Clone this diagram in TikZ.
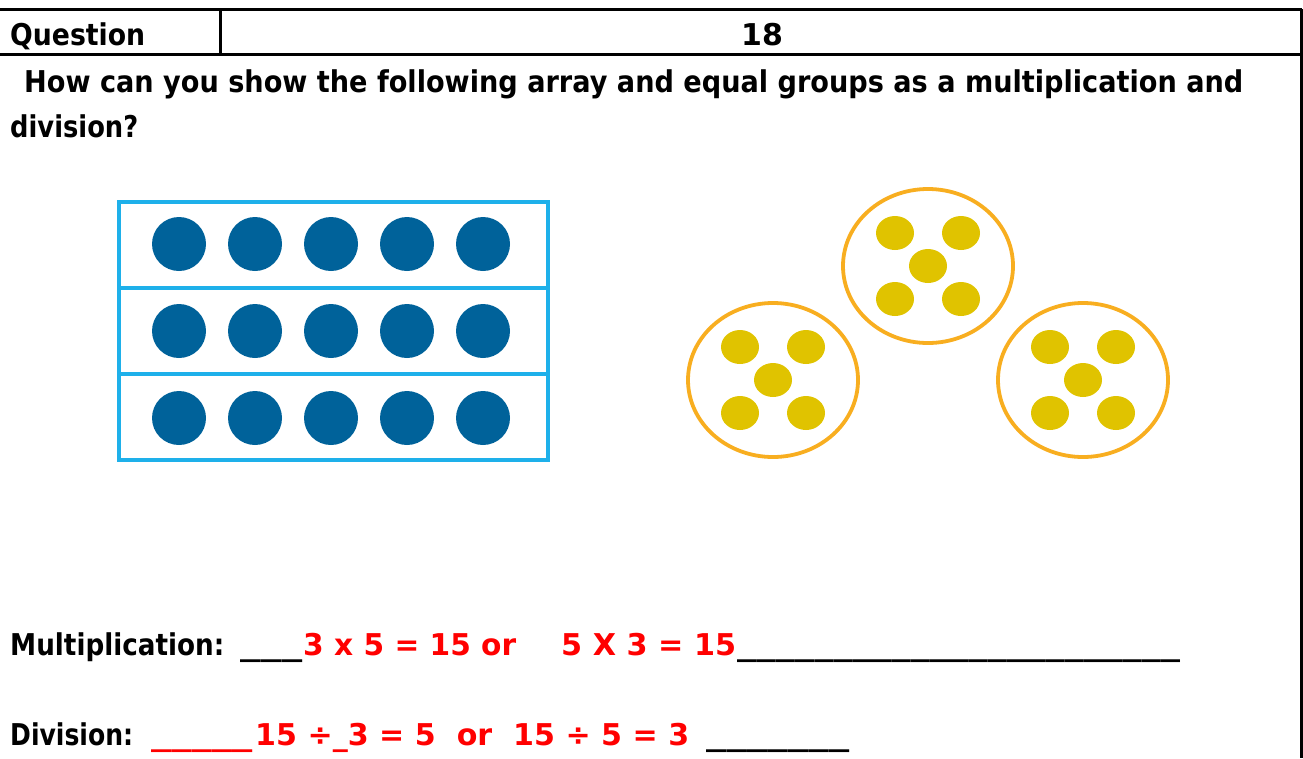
\documentclass[tikz,border=0pt]{standalone}
\usepackage{graphicx}
\usepackage{fontspec}
\setmainfont{DejaVu Sans}
\definecolor{dotblue}{HTML}{00629A}
\definecolor{boxblue}{HTML}{1EB0EA}
\definecolor{ringorange}{HTML}{F8AE20}
\definecolor{dotyellow}{HTML}{E0C300}
\definecolor{ansred}{HTML}{FF0000}
\newcommand{\fitw}[2]{\resizebox*{#1pt}{\totalheight}{#2}}
\begin{document}
\begin{tikzpicture}[x=1pt,y=-1pt,
  txt/.style={anchor=base west, inner sep=0pt, font=\fontsize{30}{32}\selectfont\bfseries},
  rule/.style={line width=3pt, black},
  arrbox/.style={line width=3.6pt, draw=boxblue},
  bluedot/.style={fill=dotblue},
  ring/.style={line width=3.8pt, draw=ringorange},
  ydot/.style={fill=dotyellow}]
\useasboundingbox (0,0) rectangle (1303,758);
% header table
\draw[rule] (0,9) -- (1302,9);
\draw[rule] (0,54) -- (1302,54);
\draw[rule] (220,9) -- (220,54);
\draw[rule] (1301,9) -- (1301,758);
\node[txt] (q) at (10,45) {\fitw{135}{Question}};
\node[txt, anchor=base] (num) at (762,45) {18};
% question text
\node[txt] (l1) at (24,92) {\fitw{1219}{How can you show the following array and equal groups as a multiplication and}};
\node[txt] (l2) at (10,137) {\fitw{128}{division?}};
% array
\draw[arrbox] (119,202) rectangle (548,460);
\draw[arrbox] (119,288) -- (548,288);
\draw[arrbox] (119,374) -- (548,374);
\foreach \yy in {244,331,418}{
  \foreach \xx in {179,255,331,407,483}{
    \fill[bluedot] (\xx,\yy) circle (27);
  }
}
% equal groups
\foreach \cx/\cy in {928/266, 773/380, 1083/380}{
  \draw[ring] (\cx,\cy) ellipse (85 and 77);
  \foreach \dx/\dy in {-33/-33, 33/-33, 0/0, -33/33, 33/33}{
    \fill[ydot] (\cx+\dx,\cy+\dy) ellipse (19 and 17);
  }
}
% answers
\node[txt] (m) at (10,655) {\fitw{214}{Multiplication:}};
\node[txt] (mu1) at (240,655) {\fitw{62}{\_\_\_}};
\node[txt, text=ansred] (ma) at (303,655) {\fitw{213}{3 x 5 = 15 or}};
\node[txt, text=ansred] (mb) at (561,655) {\fitw{175}{5 X 3 = 15}};
\node[txt] (mu2) at (737,655) {\fitw{443}{\_\_\_\_\_\_\_\_\_\_\_\_\_\_\_\_\_\_\_\_\_\_\_}};
\node[txt] (d) at (10,745) {\fitw{123}{Division:}};
\node[txt, text=ansred] (du1) at (151,745) {\fitw{101}{\_\_\_\_\_}};
\node[txt, text=ansred] (da) at (255,745) {\fitw{434}{15 ÷\_3 = 5\ \ or\ \ 15 ÷ 5 = 3}};
\node[txt] (du2) at (706,745) {\fitw{143}{\_\_\_\_\_\_\_}};
\end{tikzpicture}
\end{document}
